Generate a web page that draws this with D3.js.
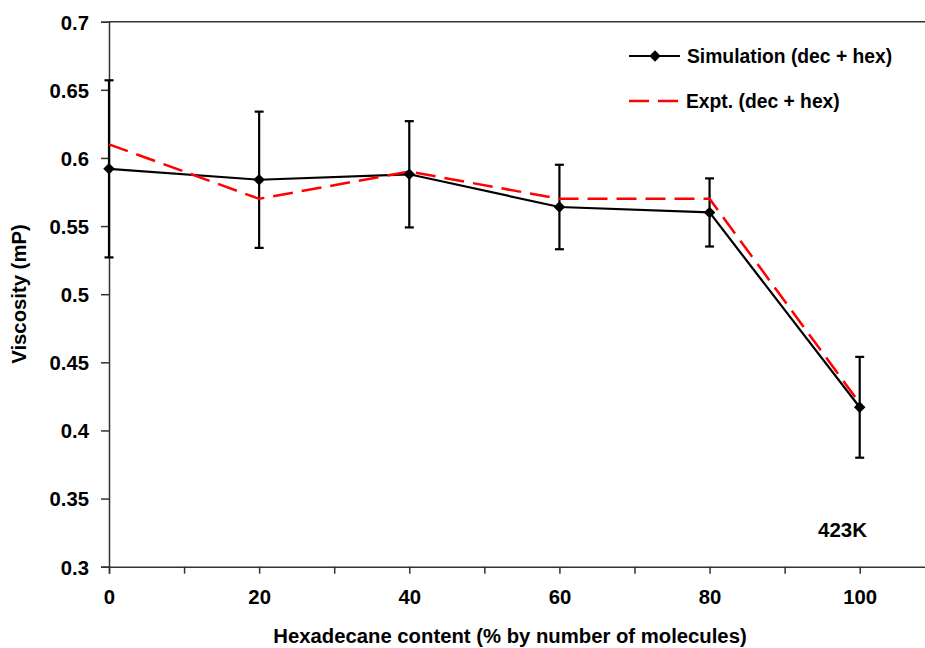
<!DOCTYPE html>
<html>
<head>
<meta charset="utf-8">
<script src="https://cdn.jsdelivr.net/npm/d3@7/dist/d3.min.js"></script>
<style>
  html, body { margin: 0; padding: 0; background: #fff; }
  svg { display: block; font-family: "Liberation Sans", Arial, sans-serif; font-weight: bold; }
</style>
</head>
<body>
<svg id="chart" width="925" height="648"></svg>
<script>
// Hexadecane content (% by number of molecules)
const content = [0, 20, 40, 60, 80, 100];
// Simulated viscosity (mP) and its uncertainty
const simulation = [0.592, 0.584, 0.588, 0.564, 0.560, 0.417];
const simError = [0.065, 0.050, 0.039, 0.031, 0.025, 0.037];
// Experimental viscosity (mP)
const experiment = [0.610, 0.570, 0.590, 0.570, 0.570, 0.420];

const xTicks = [0, 10, 20, 30, 40, 50, 60, 70, 80, 90, 100, 110];
const xLabels = [0, 20, 40, 60, 80, 100];
const yTicks = [0.3, 0.35, 0.4, 0.45, 0.5, 0.55, 0.6, 0.65, 0.7];

const svg = d3.select("#chart");
const plotLeft = 109, plotTop = 21.7, plotBottom = 566.7;

const x = d3.scaleLinear().domain([0, 110]).range([plotLeft, plotLeft + 110 * 7.507]);
const y = d3.scaleLinear().domain([0.3, 0.7]).range([plotBottom, plotTop]);

// plot-area top border
svg.append("line")
  .attr("x1", plotLeft).attr("x2", x(110))
  .attr("y1", y(0.7)).attr("y2", y(0.7))
  .attr("stroke", "#333").attr("stroke-width", 1.5);

// y axis
const yAxis = svg.append("g")
  .attr("transform", `translate(${plotLeft},0)`)
  .call(d3.axisLeft(y).tickValues(yTicks).tickSize(8).tickPadding(12)
    .tickFormat(d => String(+d.toFixed(2))));
yAxis.select(".domain").attr("stroke", "#333").attr("stroke-width", 1.5);
yAxis.selectAll(".tick line").attr("stroke", "#333").attr("stroke-width", 1.5);
yAxis.selectAll(".tick text").attr("font-size", 20.3).attr("font-weight", "bold")
  .attr("font-family", "Liberation Sans, Arial, sans-serif").attr("fill", "#000")
  .attr("dy", "0.36em");

// x axis
const xAxis = svg.append("g")
  .attr("transform", `translate(0,${plotBottom})`)
  .call(d3.axisBottom(x).tickValues(xTicks).tickSize(7).tickPadding(16)
    .tickFormat(d => xLabels.includes(d) ? d : ""));
xAxis.select(".domain").attr("stroke", "#333").attr("stroke-width", 1.5);
xAxis.selectAll(".tick line").attr("stroke", "#333").attr("stroke-width", 1.5);
xAxis.selectAll(".tick text").attr("font-size", 20.3).attr("font-weight", "bold")
  .attr("font-family", "Liberation Sans, Arial, sans-serif").attr("fill", "#000");

// axis titles
svg.append("text")
  .attr("x", 510).attr("y", 643)
  .attr("text-anchor", "middle").attr("font-size", 20.3).text("Hexadecane content (% by number of molecules)");
svg.append("text")
  .attr("transform", `translate(26,294) rotate(-90)`)
  .attr("text-anchor", "middle").attr("font-size", 20.3).text("Viscosity (mP)");

// error bars on simulation
const eb = svg.append("g").attr("stroke", "#000").attr("stroke-width", 2.2);
content.forEach((c, i) => {
  const cx = x(c), lo = y(simulation[i] - simError[i]), hi = y(simulation[i] + simError[i]);
  eb.append("line").attr("x1", cx).attr("x2", cx).attr("y1", lo).attr("y2", hi);
  eb.append("line").attr("x1", cx - 4.5).attr("x2", cx + 4.5).attr("y1", lo).attr("y2", lo);
  eb.append("line").attr("x1", cx - 4.5).attr("x2", cx + 4.5).attr("y1", hi).attr("y2", hi);
});

const line = d3.line().x(d => x(d[0])).y(d => y(d[1]));

// simulation line
svg.append("path")
  .datum(content.map((c, i) => [c, simulation[i]]))
  .attr("d", line).attr("fill", "none").attr("stroke", "#000").attr("stroke-width", 2.2);

// experimental line
svg.append("path")
  .datum(content.map((c, i) => [c, experiment[i]]))
  .attr("d", line).attr("fill", "none").attr("stroke", "#ff0000")
  .attr("stroke-width", 2.5).attr("stroke-dasharray", "20,9");

// diamond markers
const diamond = d3.symbol().type(d3.symbolDiamond2).size(85);
svg.append("g").selectAll("path")
  .data(content.map((c, i) => [c, simulation[i]]))
  .join("path")
  .attr("transform", d => `translate(${x(d[0])},${y(d[1])})`)
  .attr("d", diamond).attr("fill", "#000");

// legend
const lg = svg.append("g");
lg.append("line").attr("x1", 629).attr("x2", 680).attr("y1", 56).attr("y2", 56)
  .attr("stroke", "#000").attr("stroke-width", 2.2);
lg.append("path").attr("transform", "translate(655,56)").attr("d", diamond).attr("fill", "#000");
lg.append("text").attr("x", 687).attr("y", 63).attr("font-size", 19.3).text("Simulation (dec + hex)");
lg.append("line").attr("x1", 629).attr("x2", 680).attr("y1", 101).attr("y2", 101)
  .attr("stroke", "#ff0000").attr("stroke-width", 2.5).attr("stroke-dasharray", "20,9");
lg.append("text").attr("x", 686).attr("y", 107.5).attr("font-size", 19.3).text("Expt. (dec + hex)");

// temperature annotation
svg.append("text").attr("x", 818).attr("y", 537).attr("font-size", 20.5).text("423K");
</script>
</body>
</html>
